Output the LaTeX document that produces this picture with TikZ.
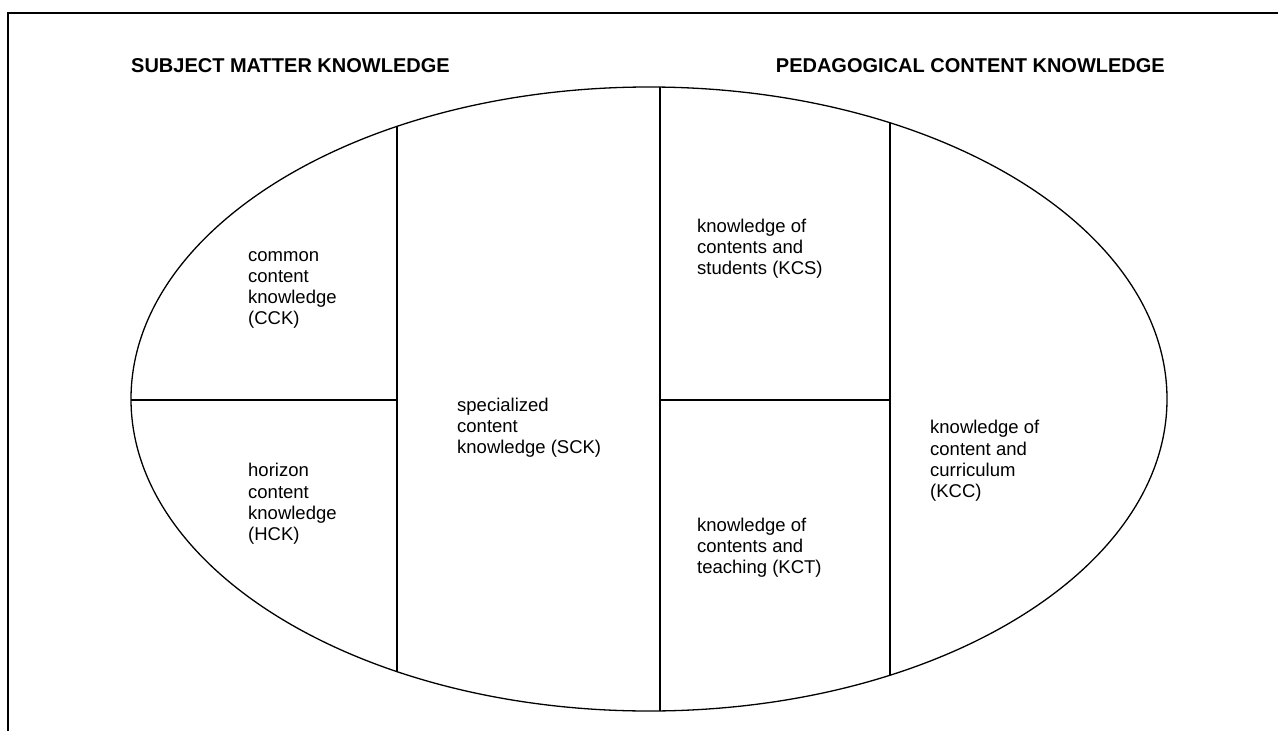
\documentclass[tikz,border=0pt]{standalone}
\usepackage{fontspec}
\setmainfont{Liberation Sans}
\begin{document}
\begin{tikzpicture}[x=1pt,y=-1pt,
  frame/.style={line width=2pt},
  oval/.style={line width=1.3pt},
  divider/.style={line width=2pt},
  heading/.style={anchor=base west,inner sep=0pt,font=\fontsize{20}{24}\selectfont\bfseries},
  label/.style={anchor=west,inner sep=0pt,align=left,font=\fontsize{18.5}{21.2}\selectfont}]
\useasboundingbox (0,0) rectangle (1278,731);
\draw[frame] (8,731) -- (8,13) -- (1278,13);
\node[heading] (smk) at (131,72) {SUBJECT MATTER KNOWLEDGE};
\node[heading,anchor=base east] (pck) at (1165,72) {PEDAGOGICAL CONTENT KNOWLEDGE};
\coordinate (E) at (649,399);
\draw[oval] (E) ellipse [x radius=518pt, y radius=312pt];
\begin{scope}
  \clip (E) ellipse [x radius=518pt, y radius=312pt];
  \draw[divider] (100,400) -- (397,400);
  \draw[divider] (397,50) -- (397,750);
  \draw[divider] (660,50) -- (660,750);
  \draw[divider] (660,400) -- (890,400);
  \draw[divider] (890,50) -- (890,750);
\end{scope}
\node[label] (cck) at (248,290) {common\\content\\knowledge\\(CCK)};
\node[label] (hck) at (248,504) {horizon\\content\\knowledge\\(HCK)};
\node[label] (sck) at (457,428) {specialized\\content\\knowledge (SCK)};
\node[label] (kcs) at (697,249) {knowledge of\\contents and\\students (KCS)};
\node[label] (kct) at (697,548) {knowledge of\\contents and\\teaching (KCT)};
\node[label] (kcc) at (930,461) {knowledge of\\content and\\curriculum\\(KCC)};
\end{tikzpicture}
\end{document}
